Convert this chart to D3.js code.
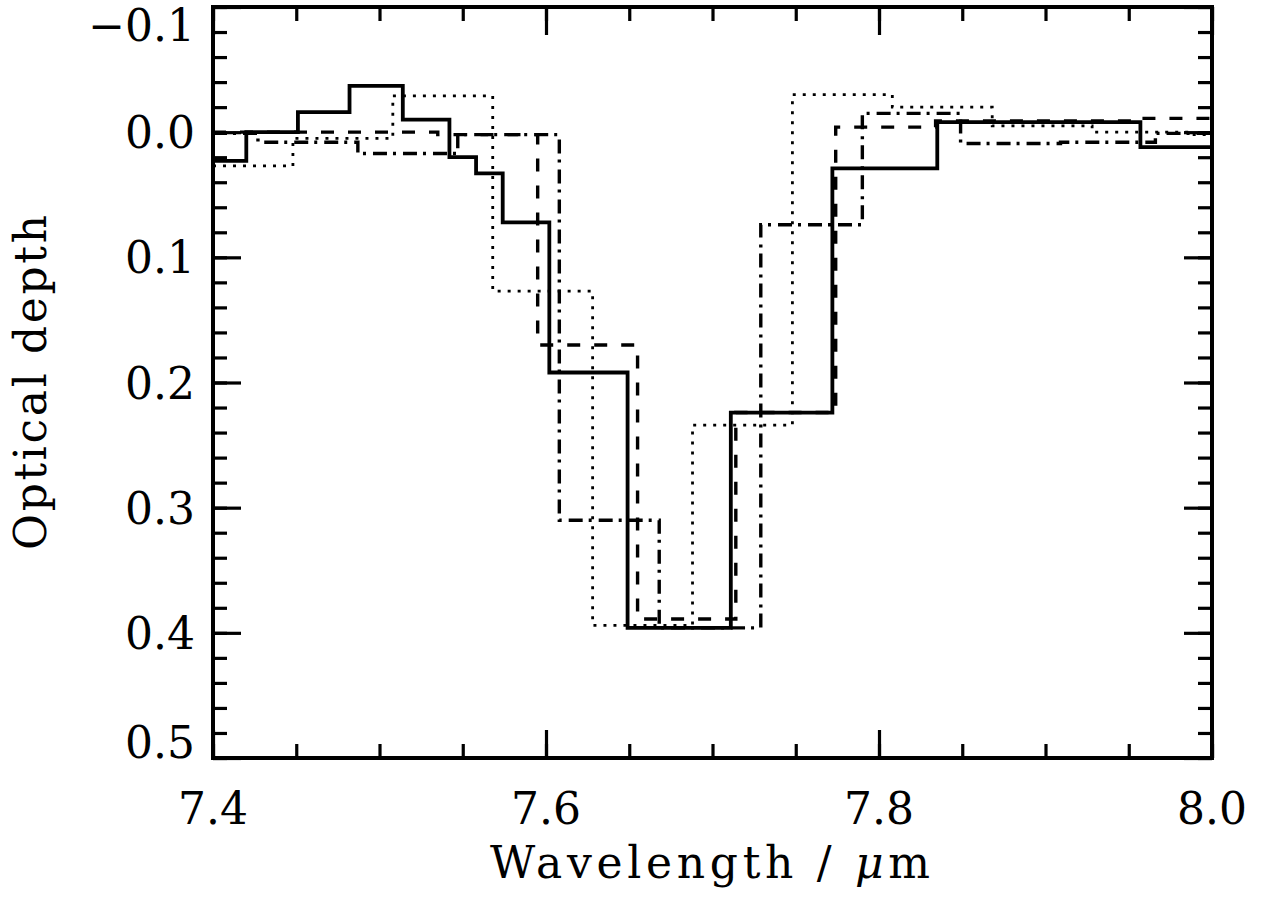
<!DOCTYPE html>
<html>
<head>
<meta charset="utf-8">
<script src="https://cdn.jsdelivr.net/npm/d3@7"></script>
<style>
  body { margin: 0; background: #fff; }
  svg { display: block; }
</style>
</head>
<body>
<div class="chart"></div>
<script>
// bin edges (micron) and optical depth per bin
var solidEdges = [7.400, 7.420, 7.451, 7.482, 7.514, 7.542, 7.558, 7.574, 7.602, 7.649, 7.711, 7.772, 7.835, 7.957, 8.000];
var solidValues = [0.023, 0.000, -0.016, -0.037, -0.010, 0.020, 0.033, 0.072, 0.192, 0.396, 0.224, 0.029, -0.008, 0.012];

var dottedEdges = [7.400, 7.448, 7.508, 7.568, 7.628, 7.688, 7.748, 7.808, 7.868, 7.928, 7.988, 8.000];
var dottedValues = [0.027, 0.005, -0.029, 0.127, 0.394, 0.234, -0.030, -0.020, -0.005, 0.000, 0.002];

var dashedEdges = [7.400, 7.535, 7.595, 7.655, 7.714, 7.774, 7.834, 7.894, 7.954, 8.000];
var dashedValues = [0.000, 0.002, 0.170, 0.389, 0.224, -0.004, -0.009, -0.009, -0.011];

var dashDotEdges = [7.400, 7.427, 7.487, 7.547, 7.608, 7.668, 7.729, 7.790, 7.849, 7.909, 7.966, 8.000];
var dashDotValues = [0.001, 0.008, 0.017, 0.002, 0.310, 0.396, 0.074, -0.015, 0.009, 0.008, 0.001];

var xMajorTicks = [7.4, 7.6, 7.8, 8.0];
var xTickLabels = ['7.4', '7.6', '7.8', '8.0'];
var yMajorTicks = [-0.1, 0.0, 0.1, 0.2, 0.3, 0.4, 0.5];
var yTickLabels = ['\u22120.1', '0.0', '0.1', '0.2', '0.3', '0.4', '0.5'];

var width = 1263, height = 897;
var plotLeft = 213, plotRight = 1212, plotTop = 7, plotBottom = 758;
var fontFamily = '"DejaVu Serif", "Liberation Serif", serif';
var fontSize = 44;

var svg = d3.select('.chart')
			.append('svg')
			.attr('width', width)
			.attr('height', height);

var x = d3.scaleLinear().domain([7.4, 8.0]).range([plotLeft, plotRight]);
var y = d3.scaleLinear().domain([-0.1, 0.5]).range([plotTop, plotBottom]);

svg.append('defs').append('clipPath')
	.attr('id', 'plotclip')
	.append('rect')
	.attr('x', plotLeft).attr('y', plotTop)
	.attr('width', plotRight - plotLeft).attr('height', plotBottom - plotTop);

// histogram steps
function steps(edges, values){
	var pts = [];
	for(var i = 0; i < values.length; i++){
		pts.push({w: edges[i], v: values[i]});
	}
	pts.push({w: edges[edges.length-1], v: values[values.length-1]});
	return pts;
}
var line = d3.line()
			.x(function(d){ return x(d.w); })
			.y(function(d){ return y(d.v); })
			.curve(d3.curveStepAfter);

var series = [
	{edges: dottedEdges, values: dottedValues, width: 2.8, dash: '3,7'},
	{edges: dashDotEdges, values: dashDotValues, width: 3.4, dash: '14,6,3,7'},
	{edges: dashedEdges, values: dashedValues, width: 3.4, dash: '13,14'},
	{edges: solidEdges, values: solidValues, width: 3.8, dash: null}
];
var plot = svg.append('g').attr('clip-path', 'url(#plotclip)');
series.forEach(function(s){
	plot.append('path')
		.datum(steps(s.edges, s.values))
		.attr('d', line)
		.attr('fill', 'none')
		.attr('stroke', '#000')
		.attr('stroke-width', s.width)
		.attr('stroke-dasharray', s.dash)
		.attr('stroke-linecap', 'butt');
});

// axes: ticks inward on all four sides
function minorRange(a, b, step){
	var out = [];
	var n = Math.round((b - a) / step);
	for(var i = 0; i <= n; i++) out.push(+(a + i*step).toFixed(4));
	return out;
}
var xMinor = minorRange(7.4, 8.0, 0.05);
var yMinor = minorRange(-0.1, 0.5, 0.02);

function styleAxis(g){
	g.select('.domain').remove();
	g.selectAll('line').attr('stroke', '#000').attr('stroke-width', 3.2);
	g.selectAll('text').remove();
}
svg.append('g').attr('transform', 'translate(0,' + plotBottom + ')')
	.call(d3.axisBottom(x).tickValues(xMinor).tickSize(-14)).call(styleAxis);
svg.append('g').attr('transform', 'translate(0,' + plotBottom + ')')
	.call(d3.axisBottom(x).tickValues(xMajorTicks).tickSize(-28)).call(styleAxis);
svg.append('g').attr('transform', 'translate(0,' + plotTop + ')')
	.call(d3.axisTop(x).tickValues(xMinor).tickSize(-14)).call(styleAxis);
svg.append('g').attr('transform', 'translate(0,' + plotTop + ')')
	.call(d3.axisTop(x).tickValues(xMajorTicks).tickSize(-28)).call(styleAxis);
svg.append('g').attr('transform', 'translate(' + plotLeft + ',0)')
	.call(d3.axisLeft(y).tickValues(yMinor).tickSize(-14)).call(styleAxis);
svg.append('g').attr('transform', 'translate(' + plotLeft + ',0)')
	.call(d3.axisLeft(y).tickValues(yMajorTicks).tickSize(-28)).call(styleAxis);
svg.append('g').attr('transform', 'translate(' + plotRight + ',0)')
	.call(d3.axisRight(y).tickValues(yMinor).tickSize(-14)).call(styleAxis);
svg.append('g').attr('transform', 'translate(' + plotRight + ',0)')
	.call(d3.axisRight(y).tickValues(yMajorTicks).tickSize(-28)).call(styleAxis);

svg.append('rect')
	.attr('x', plotLeft).attr('y', plotTop)
	.attr('width', plotRight - plotLeft).attr('height', plotBottom - plotTop)
	.attr('fill', 'none')
	.attr('stroke', '#000')
	.attr('stroke-width', 4);

// tick labels
xMajorTicks.forEach(function(t, i){
	svg.append('text')
		.attr('x', x(t))
		.attr('y', 824)
		.attr('text-anchor', 'middle')
		.attr('font-family', fontFamily)
		.attr('font-size', fontSize)
		.text(xTickLabels[i]);
});
yMajorTicks.forEach(function(t, i){
	var cy = Math.max(plotTop + 18, Math.min(plotBottom - 16, y(t)));
	svg.append('text')
		.attr('x', 195)
		.attr('y', cy + 16)
		.attr('text-anchor', 'end')
		.attr('font-family', fontFamily)
		.attr('font-size', fontSize)
		.text(yTickLabels[i]);
});

// axis titles
var xt = svg.append('text')
	.attr('x', 490)
	.attr('y', 878)
	.attr('font-family', fontFamily)
	.attr('font-size', fontSize)
	.attr('textLength', 440)
	.attr('lengthAdjust', 'spacing');
xt.append('tspan').text('Wavelength / ');
xt.append('tspan').attr('font-style', 'italic').text('\u03bc');
xt.append('tspan').text('m');

svg.append('text')
	.attr('transform', 'translate(46,550) rotate(-90)')
	.attr('font-family', fontFamily)
	.attr('font-size', fontSize)
	.attr('textLength', 335)
	.attr('lengthAdjust', 'spacing')
	.text('Optical depth');
</script>
</body>
</html>
